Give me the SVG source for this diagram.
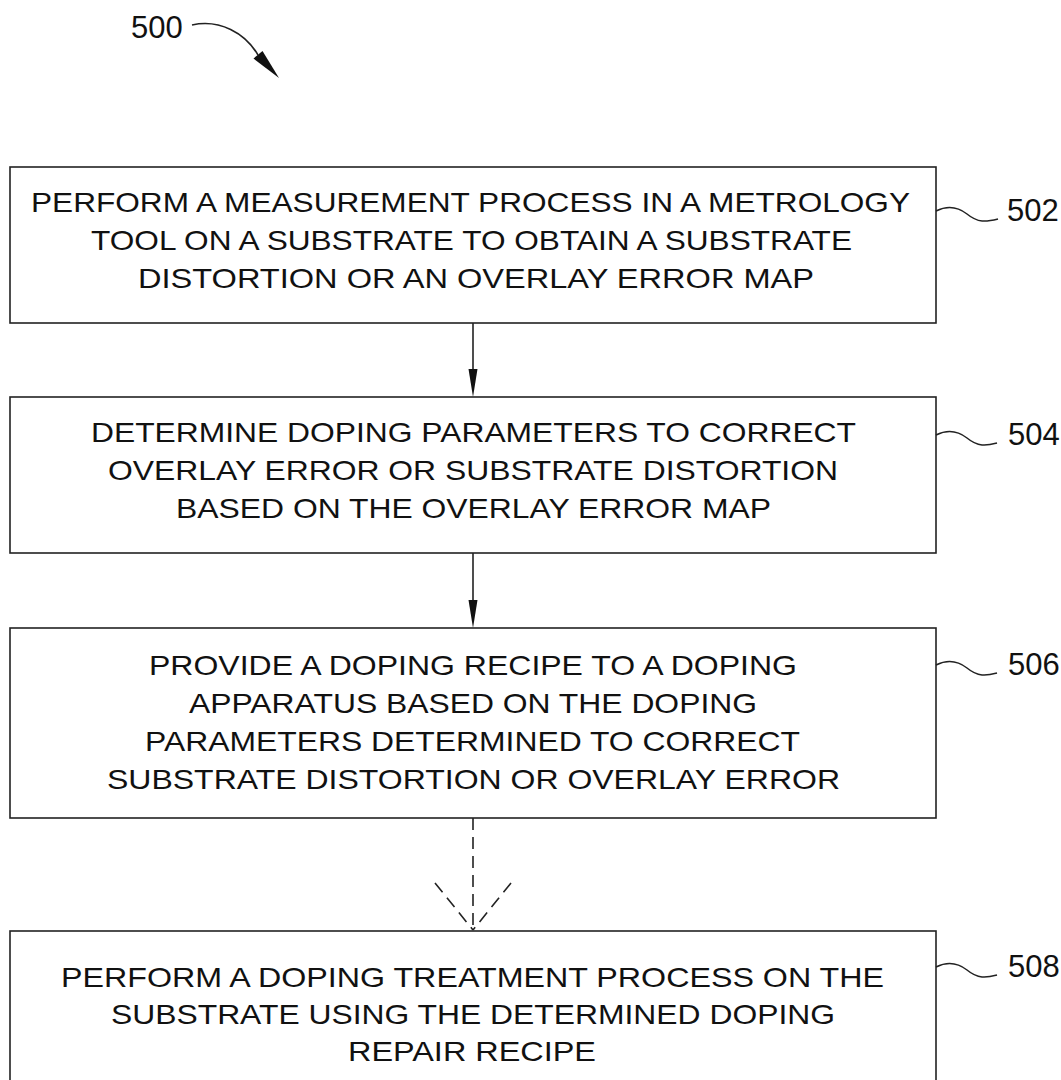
<svg xmlns="http://www.w3.org/2000/svg" width="1061" height="1080" viewBox="0 0 1061 1080">
<style>
.box{fill:#fff;stroke:#222;stroke-width:1.6}
.t{font-family:"Liberation Sans",Arial,sans-serif;font-size:28px;fill:#111}
.lbl{font-family:"Liberation Sans",Arial,sans-serif;font-size:31px;fill:#111}
.sq{fill:none;stroke:#222;stroke-width:1.5}
.ln{fill:none;stroke:#222;stroke-width:1.6}
.dash{fill:none;stroke:#222;stroke-width:1.6;stroke-dasharray:12 7}
.ah{fill:#111}
</style>
<rect width="1061" height="1080" fill="#fff"/>
<g id="label500">
<text class="lbl" x="131" y="38">500</text>
<path class="ln" d="M192,25 C220,19 245,33 258,55"/>
<path class="ah" d="M253.5,58.5 L262.5,51 L279,78 Z"/>
</g>
<g id="connectors">
<line class="ln" x1="473" y1="323" x2="473" y2="372"/>
<path class="ah" d="M468.5,369 L477.5,369 L473,397 Z"/>
<line class="ln" x1="473" y1="553" x2="473" y2="603"/>
<path class="ah" d="M468.5,600 L477.5,600 L473,628 Z"/>
<line class="dash" x1="473" y1="818" x2="473" y2="930"/>
<line class="dash" x1="435" y1="883" x2="473" y2="930"/>
<line class="dash" x1="511" y1="883" x2="473" y2="930"/>
</g>
<g id="n502">
<rect class="box" x="10" y="167" width="926" height="156"/>
<text class="t" x="31" y="212" textLength="879" lengthAdjust="spacingAndGlyphs">PERFORM A MEASUREMENT PROCESS IN A METROLOGY</text>
<text class="t" x="91" y="250" textLength="761" lengthAdjust="spacingAndGlyphs">TOOL ON A SUBSTRATE TO OBTAIN A SUBSTRATE</text>
<text class="t" x="138" y="288" textLength="676" lengthAdjust="spacingAndGlyphs">DISTORTION OR AN OVERLAY ERROR  MAP</text>
<path class="sq" d="M936,211 C948,205 958,207 967,214 C978,223 986,222 998,219"/>
<text class="lbl" x="1007" y="221">502</text>
</g>
<g id="n504">
<rect class="box" x="10" y="397" width="926" height="156"/>
<text class="t" x="91" y="442" textLength="765" lengthAdjust="spacingAndGlyphs">DETERMINE DOPING PARAMETERS TO CORRECT</text>
<text class="t" x="108" y="480" textLength="730" lengthAdjust="spacingAndGlyphs">OVERLAY ERROR OR SUBSTRATE DISTORTION</text>
<text class="t" x="176" y="518" textLength="595" lengthAdjust="spacingAndGlyphs">BASED ON THE OVERLAY ERROR MAP</text>
<path class="sq" d="M936,435 C948,429 958,431 967,438 C978,447 986,446 997,443"/>
<text class="lbl" x="1008" y="445">504</text>
</g>
<g id="n506">
<rect class="box" x="10" y="628" width="926" height="190"/>
<text class="t" x="149" y="675" textLength="648" lengthAdjust="spacingAndGlyphs">PROVIDE A DOPING RECIPE TO A DOPING</text>
<text class="t" x="189" y="713" textLength="568" lengthAdjust="spacingAndGlyphs">APPARATUS BASED ON THE DOPING</text>
<text class="t" x="145" y="751" textLength="655" lengthAdjust="spacingAndGlyphs">PARAMETERS DETERMINED TO CORRECT</text>
<text class="t" x="107" y="789" textLength="733" lengthAdjust="spacingAndGlyphs">SUBSTRATE DISTORTION OR OVERLAY ERROR</text>
<path class="sq" d="M936,665 C948,659 958,661 967,668 C978,677 986,676 997,673"/>
<text class="lbl" x="1008" y="675">506</text>
</g>
<g id="n508">
<rect class="box" x="10" y="931" width="926" height="170"/>
<text class="t" x="61" y="987" textLength="823" lengthAdjust="spacingAndGlyphs">PERFORM A DOPING TREATMENT PROCESS ON THE</text>
<text class="t" x="111" y="1024" textLength="724" lengthAdjust="spacingAndGlyphs">SUBSTRATE USING THE DETERMINED DOPING</text>
<text class="t" x="348" y="1061" textLength="248" lengthAdjust="spacingAndGlyphs">REPAIR RECIPE</text>
<path class="sq" d="M936,967 C948,961 958,963 967,970 C978,979 986,978 997,975"/>
<text class="lbl" x="1008" y="977">508</text>
</g>
</svg>
